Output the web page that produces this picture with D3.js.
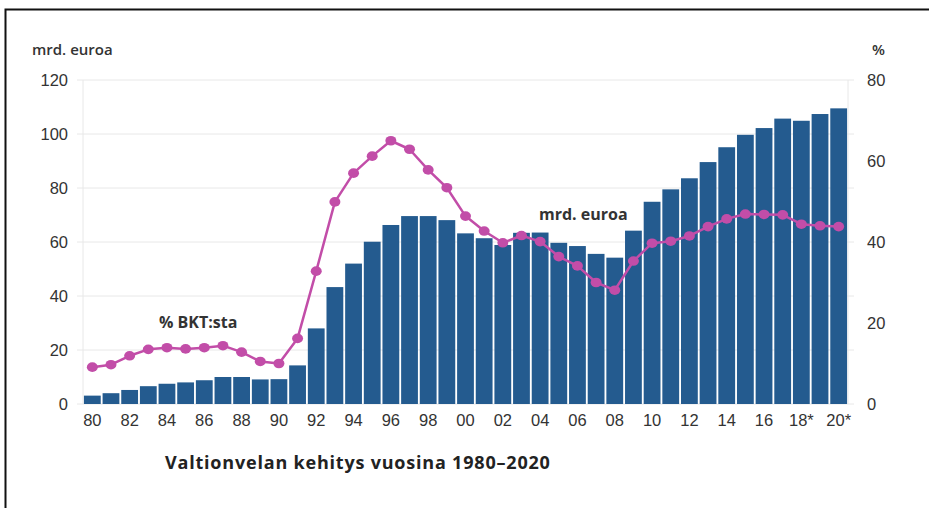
<!DOCTYPE html>
<html>
<head>
<meta charset="utf-8">
<script src="https://cdn.jsdelivr.net/npm/d3@7"></script>
<style>
  body { margin: 0; background: #fff; }
  svg { display: block; font-family: "Open Sans", "Noto Sans", sans-serif; }
</style>
</head>
<body>
<div id="wrapper"></div>
<script>
const years = d3.range(1980, 2021);
const debtBn = [3.1, 4.0, 5.2, 6.6, 7.5, 8.0, 8.8, 10.0, 10.0, 9.1, 9.2,
  14.3, 28.0, 43.3, 52.0, 60.1, 66.3, 69.6, 69.6, 68.1, 63.2,
  61.4, 58.9, 63.4, 63.5, 59.7, 58.5, 55.6, 54.2, 64.2, 74.9,
  79.5, 83.6, 89.6, 95.1, 99.7, 102.2, 105.7, 104.9, 107.4, 109.5];
const debtPct = [9.1, 9.7, 11.9, 13.5, 13.9, 13.6, 13.9, 14.4, 12.8, 10.5, 10.0,
  16.2, 32.8, 49.9, 57.0, 61.2, 65.0, 62.9, 57.8, 53.4, 46.4,
  42.7, 39.8, 41.6, 40.1, 36.4, 34.1, 30.0, 28.1, 35.3, 39.7,
  40.2, 41.5, 43.8, 45.7, 46.9, 46.8, 46.7, 44.4, 44.0, 43.8];
const leftTicks = [0, 20, 40, 60, 80, 100, 120];
const rightTicks = [0, 20, 40, 60, 80];
const xTickLabels = {1980:"80",1982:"82",1984:"84",1986:"86",1988:"88",1990:"90",1992:"92",1994:"94",1996:"96",1998:"98",
  2000:"00",2002:"02",2004:"04",2006:"06",2008:"08",2010:"10",2012:"12",2014:"14",2016:"16",2018:"18*",2020:"20*"};

const width = 929, height = 508;
const margin = {top: 80, right: 81, bottom: 104, left: 83};
const innerW = width - margin.left - margin.right;
const innerH = height - margin.top - margin.bottom;

const svg = d3.select("#wrapper").append("svg")
  .attr("width", width).attr("height", height);

// frame (left + top only)
svg.append("path")
  .attr("d", `M5.5,${height} V9.5 H${width}`)
  .attr("fill", "none").attr("stroke", "#111").attr("stroke-width", 2);

const bounds = svg.append("g").attr("transform", `translate(${margin.left},${margin.top})`);

const xScale = d3.scaleBand().domain(years).range([0, innerW]).paddingInner(0.1).paddingOuter(0.05);
const yLeft = d3.scaleLinear().domain([0, 120]).range([innerH, 0]);
const yRight = d3.scaleLinear().domain([0, 80]).range([innerH, 0]);

// gridlines
bounds.append("g").selectAll("line").data(leftTicks).join("line")
  .attr("x1", -6).attr("x2", innerW + 6)
  .attr("y1", d => yLeft(d)).attr("y2", d => yLeft(d))
  .attr("stroke", "#e8e8e8").attr("stroke-width", 1);
bounds.append("g").selectAll("line").data([0, innerW]).join("line")
  .attr("x1", d => d).attr("x2", d => d).attr("y1", 0).attr("y2", innerH)
  .attr("stroke", "#e8e8e8");

// bars
bounds.append("g").selectAll("rect").data(years).join("rect")
  .attr("x", d => xScale(d))
  .attr("width", xScale.bandwidth())
  .attr("y", (d, i) => yLeft(debtBn[i]))
  .attr("height", (d, i) => innerH - yLeft(debtBn[i]))
  .attr("fill", "#245b8f");

// line
const lineGen = d3.line()
  .x(d => xScale(d) + xScale.bandwidth() / 2)
  .y(d => yRight(debtPct[years.indexOf(d)]));
bounds.append("path").datum(years)
  .attr("d", lineGen)
  .attr("fill", "none").attr("stroke", "#c24da8").attr("stroke-width", 2.5)
  .attr("stroke-linejoin", "round");
bounds.append("g").selectAll("ellipse").data(years).join("ellipse")
  .attr("cx", d => xScale(d) + xScale.bandwidth() / 2)
  .attr("cy", (d, i) => yRight(debtPct[i]))
  .attr("rx", 5.5).attr("ry", 4.8)
  .attr("fill", "#c24da8");

// axes
const tickFont = g => g.selectAll("text").attr("font-size", 16.5).attr("fill", "#333");
bounds.append("g")
  .call(d3.axisLeft(yLeft).tickValues(leftTicks).tickSize(0).tickPadding(15))
  .call(g => g.select(".domain").remove())
  .call(tickFont);
bounds.append("g").attr("transform", `translate(${innerW},0)`)
  .call(d3.axisRight(yRight).tickValues(rightTicks).tickSize(0).tickPadding(19))
  .call(g => g.select(".domain").remove())
  .call(tickFont);
bounds.append("g").attr("transform", `translate(0,${innerH})`)
  .call(d3.axisBottom(xScale).tickValues(Object.keys(xTickLabels).map(Number))
    .tickFormat(d => xTickLabels[d]).tickSize(0).tickPadding(10))
  .call(g => g.select(".domain").remove())
  .call(tickFont);

// labels
svg.append("text").attr("x", 32).attr("y", 55).attr("font-size", 15).attr("font-weight", 600).attr("fill", "#333").text("mrd. euroa");
svg.append("text").attr("x", 872).attr("y", 55).attr("font-size", 15).attr("font-weight", 600).attr("fill", "#333").text("%");
svg.append("text").attr("x", 159).attr("y", 328).attr("font-size", 16).attr("font-weight", "bold").attr("fill", "#333").text("% BKT:sta");
svg.append("text").attr("x", 539).attr("y", 220).attr("font-size", 16).attr("font-weight", "bold").attr("fill", "#333").text("mrd. euroa");
svg.append("text").attr("x", 165).attr("y", 469).attr("font-size", 18).attr("font-weight", "bold")
  .attr("letter-spacing", 0.8).attr("fill", "#222").text("Valtionvelan kehitys vuosina 1980–2020");
</script>
</body>
</html>
